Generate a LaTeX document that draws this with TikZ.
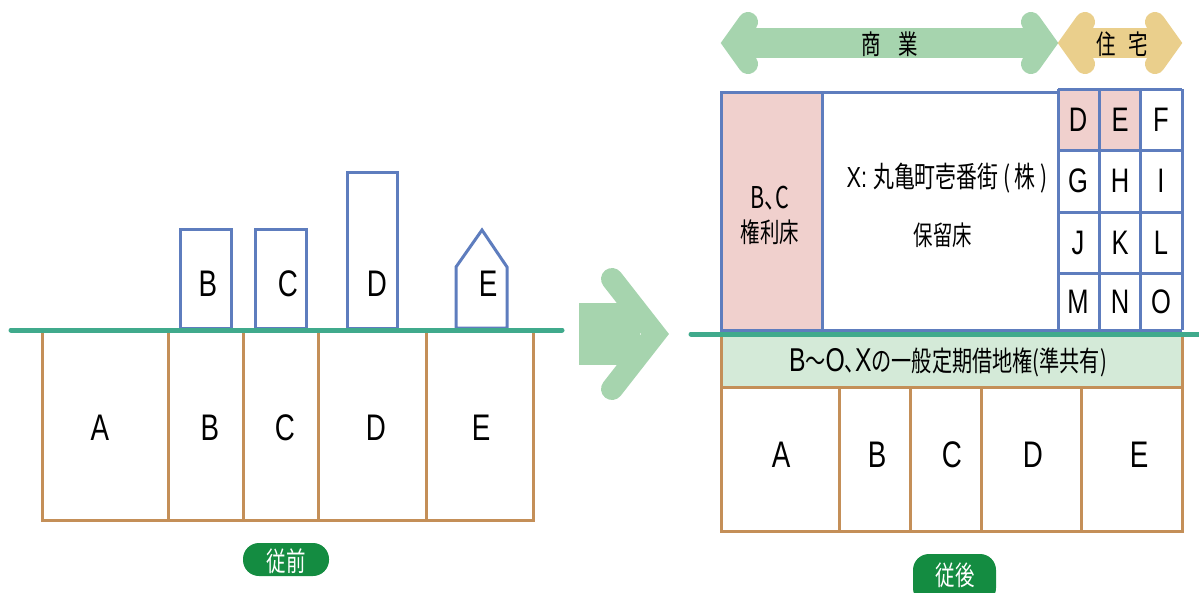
\documentclass[tikz,border=0pt]{standalone}
\usepackage{fontspec}
\setmainfont{Liberation Sans}[FakeStretch=0.75]
\newfontfamily\jp{Noto Sans CJK JP}[FakeStretch=0.72]
\newfontfamily\jphalf{Noto Sans CJK JP}[FakeStretch=0.72,CharacterWidth=AlternateHalf]
\newcommand\myfs[1]{\fontsize{#1}{#1}\selectfont}
\definecolor{bldblue}{RGB}{94,125,190}
\definecolor{lotbrown}{RGB}{196,143,88}
\definecolor{ground}{RGB}{64,170,140}
\definecolor{pinkfill}{RGB}{240,208,205}
\definecolor{bandfill}{RGB}{212,234,216}
\definecolor{arrgreen}{RGB}{166,212,174}
\definecolor{arrorange}{RGB}{234,207,140}
\definecolor{pillgreen}{RGB}{20,140,65}
\tikzset{
  lot/.style={draw=lotbrown, line width=3pt},
  bld/.style={draw=bldblue, line width=3pt},
  groundline/.style={draw=ground, line width=5pt, line cap=round},
  biglabel/.style={inner sep=0pt, font=\myfs{37}},
  gridlabel/.style={inner sep=0pt, font=\myfs{34}},
  jptext/.style={inner sep=0pt, font=\jp\myfs{27}},
  pill/.style={fill=pillgreen, rounded corners=16pt},
  pilltext/.style={inner sep=0pt, text=white, font=\jp\myfs{27}},
  chevron/.style={line cap=round, line join=miter},
}
\begin{document}
\begin{tikzpicture}[x=1pt,y=-1pt]
\useasboundingbox (0,0) rectangle (1199,592);
\clip (0,0) rectangle (1199,592);

% ---------- left: before ----------
\foreach \a/\b in {42/168,168/243,243/318,318/426,426/533}
  \draw[lot] (\a,330) rectangle (\b,520);
\node[biglabel] (la) at (100,428) {A};
\node[biglabel] (lb) at (210,428) {B};
\node[biglabel] (lc) at (285,428) {C};
\node[biglabel] (ld) at (376,428) {D};
\node[biglabel] (le) at (481,428) {E};

\draw[bld] (180,229) rectangle (231,328);
\draw[bld] (255,229) rectangle (306,328);
\draw[bld] (347,172) rectangle (397,328);
\draw[bld] (456,328) -- (456,267) -- (482,230) -- (507,267) -- (507,328) -- cycle;
\node[biglabel] (bb) at (208,284) {B};
\node[biglabel] (bc) at (288,284) {C};
\node[biglabel] (bd) at (377,284) {D};
\node[biglabel] (be) at (488,284) {E};

\draw[groundline] (11,330) -- (562,330);

\fill[pill] (243,543) rectangle (329,576);
\node[pilltext] (before) at (286,561) {従前};

% ---------- middle arrow ----------
\fill[arrgreen] (579,303) rectangle (640,365);
\draw[arrgreen, line width=22pt, chevron] (612,279) -- (655,334) -- (612,389);

% ---------- right: after ----------
% top arrows
\fill[arrgreen] (733,28) rectangle (1046,58);
\draw[arrgreen, line width=20pt, chevron] (748,22) -- (733,43) -- (748,64);
\draw[arrgreen, line width=20pt, chevron] (1031,22) -- (1046,43) -- (1031,64);
\fill[arrorange] (1070,28) rectangle (1170,58);
\draw[arrorange, line width=20pt, chevron] (1085,22) -- (1070,43) -- (1085,64);
\draw[arrorange, line width=20pt, chevron] (1155,22) -- (1170,43) -- (1155,64);
\node[jptext] (shogyo) at (890,44) {商\hspace{18pt}業};
\node[jptext] (jutaku) at (1122,44) {住\hspace{12pt}宅};

% building
\filldraw[bld, fill=pinkfill] (721,92) rectangle (822,330);
\draw[bld] (822,92) rectangle (1058,330);
\fill[pinkfill] (1058,89) rectangle (1140,150);
\foreach \x in {1058,1099,1140,1182}
  \draw[bld] (\x,89) -- (\x,330);
\foreach \y in {89,150,212,273,330}
  \draw[bld] (1058,\y) -- (1182,\y);

\node[inner sep=0pt, font=\jphalf\myfs{30}, text height=22pt, text depth=0pt] (bc2) at (770,197) {B、C};
\node[jptext, text height=23pt, text depth=3pt] (kenri) at (770,232) {権利床};
\node[inner sep=0pt, font=\myfs{29}] (xname) at (947,178) {X: {\jp 丸亀町壱番街 ( 株 )}};
\node[jptext] (horyu) at (943,235) {保留床};

\node[gridlabel] (gD) at (1078,120) {D};
\node[gridlabel] (gE) at (1120,120) {E};
\node[gridlabel] (gF) at (1161,120) {F};
\node[gridlabel] (gG) at (1078,181) {G};
\node[gridlabel] (gH) at (1120,181) {H};
\node[gridlabel] (gI) at (1161,181) {I};
\node[gridlabel] (gJ) at (1078,243) {J};
\node[gridlabel] (gK) at (1120,243) {K};
\node[gridlabel] (gL) at (1161,243) {L};
\node[gridlabel] (gM) at (1078,302) {M};
\node[gridlabel] (gN) at (1120,302) {N};
\node[gridlabel] (gO) at (1161,302) {O};

% band
\filldraw[lot, fill=bandfill] (721,334) rectangle (1182,387);
\node[inner sep=0pt, font=\myfs{33}] (band) at (948,362)
  {B{\jp\myfs{28}～}O{\jphalf\myfs{28}、}X{\jp\myfs{28}の一般定期借地権(準共有)}};

% lots
\foreach \a/\b in {721/839,839/910,910/981,981/1081,1081/1182}
  \draw[lot] (\a,387) rectangle (\b,531);
\node[biglabel] (ra) at (781,455) {A};
\node[biglabel] (rb) at (877,455) {B};
\node[biglabel] (rc) at (952,455) {C};
\node[biglabel] (rd) at (1033,455) {D};
\node[biglabel] (re) at (1139,455) {E};

\draw[groundline] (691,334) -- (1199,334);

\fill[pill] (913,554) rectangle (996,604);
\node[pilltext] (after) at (955,575) {従後};
\end{tikzpicture}
\end{document}
